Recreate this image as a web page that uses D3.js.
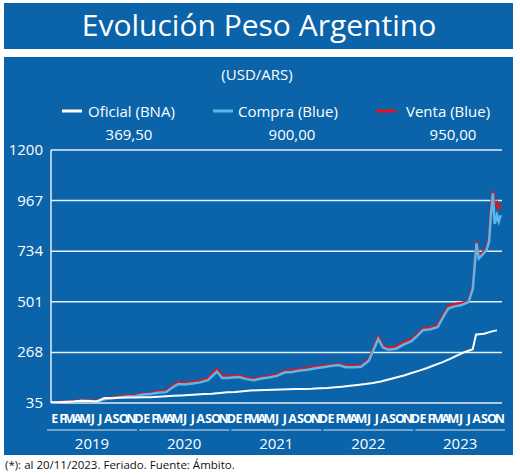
<!DOCTYPE html>
<html><head><meta charset="utf-8">
<script src="https://cdn.jsdelivr.net/npm/d3@7"></script>
<style>body{margin:0;background:#fff}text{font-family:"Open Sans",sans-serif}</style>
</head><body><svg id="c" width="520" height="475"></svg>
<script>
const years = ["2019","2020","2021","2022","2023"];
const monthLetters = ["E","F","M","A","M","J","J","A","S","O","N","D"];
const yTicks = [35, 268, 501, 734, 967, 1200];

// dates for blue series (month starts + a few extra points late 2023)
const blueDates = [
  "2019-01-01","2019-02-01","2019-03-01","2019-04-01","2019-05-01","2019-06-01","2019-07-01","2019-08-13","2019-09-01","2019-10-01","2019-11-01","2019-12-01",
  "2020-01-01","2020-02-01","2020-03-01","2020-04-01","2020-05-01","2020-05-20","2020-06-15","2020-07-15","2020-08-15","2020-09-15","2020-10-20","2020-11-10","2020-12-01","2020-12-20",
  "2021-01-15","2021-02-15","2021-03-15","2021-04-15","2021-05-15","2021-06-15","2021-07-15","2021-08-15","2021-09-15","2021-10-15","2021-11-15","2021-12-15",
  "2022-01-15","2022-02-15","2022-03-15","2022-04-15","2022-05-15","2022-06-15","2022-07-22","2022-08-10","2022-09-01","2022-10-01","2022-11-01","2022-12-01","2022-12-20",
  "2023-01-15","2023-02-15","2023-03-15","2023-04-10","2023-04-26","2023-05-20","2023-06-15","2023-07-15","2023-08-01","2023-08-16","2023-08-25","2023-09-10","2023-09-25","2023-10-05","2023-10-12","2023-10-20","2023-10-27","2023-11-05","2023-11-12","2023-11-20"
];
const compra = [
  37,38,41,42,44,44,42,56,58,62,65,66,
  74,76,82,85,110,122,120,125,130,140,180,150,150,152,
  155,145,140,148,152,160,175,178,185,188,195,200,
  205,210,200,200,202,230,330,290,280,285,305,320,340,
  370,375,385,440,470,480,485,500,560,770,700,720,740,780,900,1000,860,900,870,900
];
const venta = [
  39,40,43,44,46,46,44,60,62,66,70,71,
  78,80,88,90,118,130,128,132,138,148,192,160,158,160,
  162,152,146,154,158,166,182,186,192,196,202,206,
  210,215,206,206,208,238,340,298,288,295,315,330,348,
  378,383,395,450,480,490,495,505,575,780,710,730,750,800,940,1010,950,960,930,950
];

const oficialDates = [];
const oficial = [
  38,38,40,42,45,44,42,58,57,59,60,60,
  61,62,64,66,68,70,72,74,76,78,81,84,
  86,89,92,94,95,96,97,98,99,100,101,103,
  104,107,110,114,118,122,127,134,143,152,162,173,
  184,196,209,222,237,254,270,283,350,350,354,366,369.5
];
for (let i = 0; i < 56; i++) oficialDates.push(new Date(2019, i, 1));
oficialDates.push(new Date(2023, 7, 14), new Date(2023, 7, 16), new Date(2023, 8, 15), new Date(2023, 9, 20), new Date(2023, 10, 5), new Date(2023, 10, 20));

const parse = d3.timeParse("%Y-%m-%d");
const blue = blueDates.map((d, i) => ({date: parse(d), c: compra[i], v: venta[i]}));
const ofi = oficialDates.map((d, i) => ({date: d, v: oficial[i]}));

const BG = "#0b64a9", LIGHT = "#5bb7e8", RED = "#e4121b";
const svg = d3.select("#c");

svg.append("rect").attr("x", 4).attr("y", 3).attr("width", 509).attr("height", 46).attr("fill", BG);
svg.append("text").attr("x", 259).attr("y", 36).attr("text-anchor", "middle").attr("fill", "#fff")
  .attr("font-size", 30).attr("font-weight", 500).text("Evolución Peso Argentino");

svg.append("rect").attr("x", 4).attr("y", 57).attr("width", 509).attr("height", 398).attr("fill", BG);
svg.append("text").attr("x", 257).attr("y", 80).attr("text-anchor", "middle").attr("fill", "#fff")
  .attr("font-size", 15).text("(USD/ARS)");

// legend
const legend = [
  {name: "Oficial (BNA)", val: "369,50", color: "#fff", x: 62, tx: 88, vx: 129},
  {name: "Compra (Blue)", val: "900,00", color: LIGHT, x: 213, tx: 238, vx: 292},
  {name: "Venta (Blue)", val: "950,00", color: RED, x: 376, tx: 406, vx: 453}
];
legend.forEach(l => {
  svg.append("line").attr("x1", l.x).attr("x2", l.x + 20).attr("y1", 111).attr("y2", 111)
    .attr("stroke", l.color).attr("stroke-width", 3);
  svg.append("text").attr("x", l.tx).attr("y", 117).attr("fill", "#fff").attr("font-size", 15).text(l.name);
  svg.append("text").attr("x", l.vx).attr("y", 140).attr("text-anchor", "middle").attr("fill", "#fff").attr("font-size", 15).text(l.val);
});

const x = d3.scaleTime().domain([new Date(2019, 0, 1), new Date(2023, 10, 25)]).range([51, 502]);
const y = d3.scaleLinear().domain([35, 1200]).range([403, 150]);

// gridlines
svg.append("g").selectAll("line").data(yTicks).join("line")
  .attr("x1", 51).attr("x2", 502).attr("y1", d => y(d)).attr("y2", d => y(d))
  .attr("stroke", "#e8eef5").attr("stroke-width", 1.5);
svg.append("line").attr("x1", 51).attr("x2", 51).attr("y1", y(1200)).attr("y2", y(35))
  .attr("stroke", "#e8eef5").attr("stroke-width", 1.5);
svg.append("g").selectAll("text").data(yTicks).join("text")
  .attr("x", 43).attr("y", d => y(d) + 5).attr("text-anchor", "end").attr("fill", "#fff")
  .attr("font-size", 15).text(d => d);

const lineB = k => d3.line().x(d => x(d.date)).y(d => y(d[k]));
svg.append("path").datum(blue).attr("d", lineB("v")).attr("fill", "none").attr("stroke", RED).attr("stroke-width", 2.5);
svg.append("path").datum(blue).attr("d", lineB("c")).attr("fill", "none").attr("stroke", LIGHT).attr("stroke-width", 2.5);
svg.append("path").datum(ofi).attr("d", d3.line().x(d => x(d.date)).y(d => y(d.v)))
  .attr("fill", "none").attr("stroke", "#fff").attr("stroke-width", 2);

// month letters
const months = d3.range(59).map(i => new Date(2019, i, 1));
svg.append("g").selectAll("text").data(months).join("text")
  .attr("x", d => x(d) + 3.8).attr("y", 423).attr("text-anchor", "middle").attr("fill", "#fff")
  .attr("font-family", "'Liberation Sans Narrow','Roboto Condensed',sans-serif")
  .attr("font-size", 12.5).attr("font-weight", 700).text(d => monthLetters[d.getMonth()]);

// year underlines and labels
years.forEach((yr, i) => {
  const a = x(new Date(+yr, 0, 1)) - 4, b = Math.min(x(new Date(+yr + 1, 0, 1)) - 6, 505);
  svg.append("line").attr("x1", a).attr("x2", b).attr("y1", 430).attr("y2", 430)
    .attr("stroke", "#d8e4f0").attr("stroke-width", 1.2);
  svg.append("text").attr("x", (a + b) / 2).attr("y", 449).attr("text-anchor", "middle")
    .attr("fill", "#fff").attr("font-size", 15).text(yr);
});

svg.append("text").attr("x", 5).attr("y", 469).attr("fill", "#111").attr("font-size", 11.5)
  .text("(*): al 20/11/2023. Feriado. Fuente: Ámbito.");
</script></body></html>
